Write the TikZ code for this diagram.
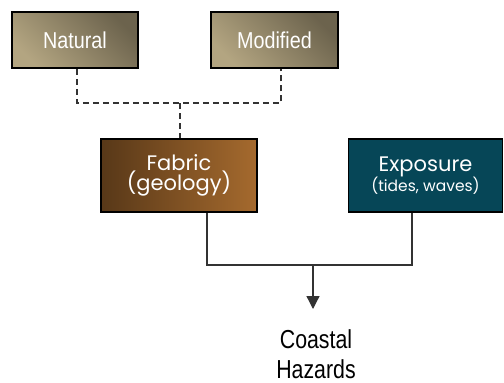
\documentclass[tikz,border=0pt]{standalone}
\usepackage{fontspec}
\setmainfont{Liberation Sans}
\newfontfamily\gothic{Poppins}
\usetikzlibrary{arrows.meta}
\definecolor{tanlight}{HTML}{B3A581}
\definecolor{tandark}{HTML}{6C634D}
\definecolor{fableft}{HTML}{583818}
\definecolor{fabright}{HTML}{A56A2E}
\definecolor{expo}{HTML}{064657}
\definecolor{linegray}{HTML}{333333}
\tikzset{
  tanbox/.style={draw=black, line width=1.5pt, minimum width=126pt, minimum height=56pt,
    inner sep=0pt, text=white, bottom color=tanlight, top color=tandark, shading angle=-45,
    font=\fontsize{23}{26}\selectfont},
  bigbox/.style={draw=black, line width=1.5pt, minimum width=155pt, minimum height=73pt,
    inner sep=0pt, text=white, align=center},
  dashline/.style={draw=linegray, line width=1.3pt, dash pattern=on 6pt off 4pt},
  solidline/.style={draw=linegray, line width=1.3pt},
}
\begin{document}
\begin{tikzpicture}[x=1pt,y=-1pt]
\useasboundingbox (0,0) rectangle (504,383);
\node[tanbox] (Natural) at (75,40) {\scalebox{0.86}[1]{Natural}};
\node[tanbox, minimum width=127pt] (Modified) at (274.5,40) {\scalebox{0.86}[1]{Modified}};
\node[bigbox, minimum width=156pt, left color=fableft, right color=fabright] (Fabric) at (179,175.5)
  {\gothic\fontsize{21}{26}\selectfont Fabric\\[-1pt]\gothic\fontsize{21}{26}\selectfont (geology)};
\node[bigbox, fill=expo, minimum width=154pt] (Exposure) at (425.5,175.5)
  {\gothic\fontsize{21}{26}\selectfont Exposure\\[-1pt]\gothic\fontsize{15.5}{20}\selectfont (tides, waves)};
\node[align=center, inner sep=0pt, font=\fontsize{26}{30}\selectfont] (Hazards) at (316,354.5)
  {\scalebox{0.82}[1]{Coastal}\\\scalebox{0.82}[1]{Hazards}};
\coordinate (j) at (180,103);
\coordinate (k) at (313,265);
\coordinate (tip) at (313,309);
\draw[dashline] ([xshift=2pt]Natural.south) |- (j) -| ([xshift=6.5pt]Modified.south);
\draw[dashline] (j) -- (Fabric.north -| j);
\draw[solidline] ([xshift=28pt]Fabric.south) |- (k) -| ([xshift=-13.5pt]Exposure.south);
\draw[solidline, -{Triangle[width=13pt,length=13pt]}] (k) -- (tip);
\end{tikzpicture}
\end{document}
